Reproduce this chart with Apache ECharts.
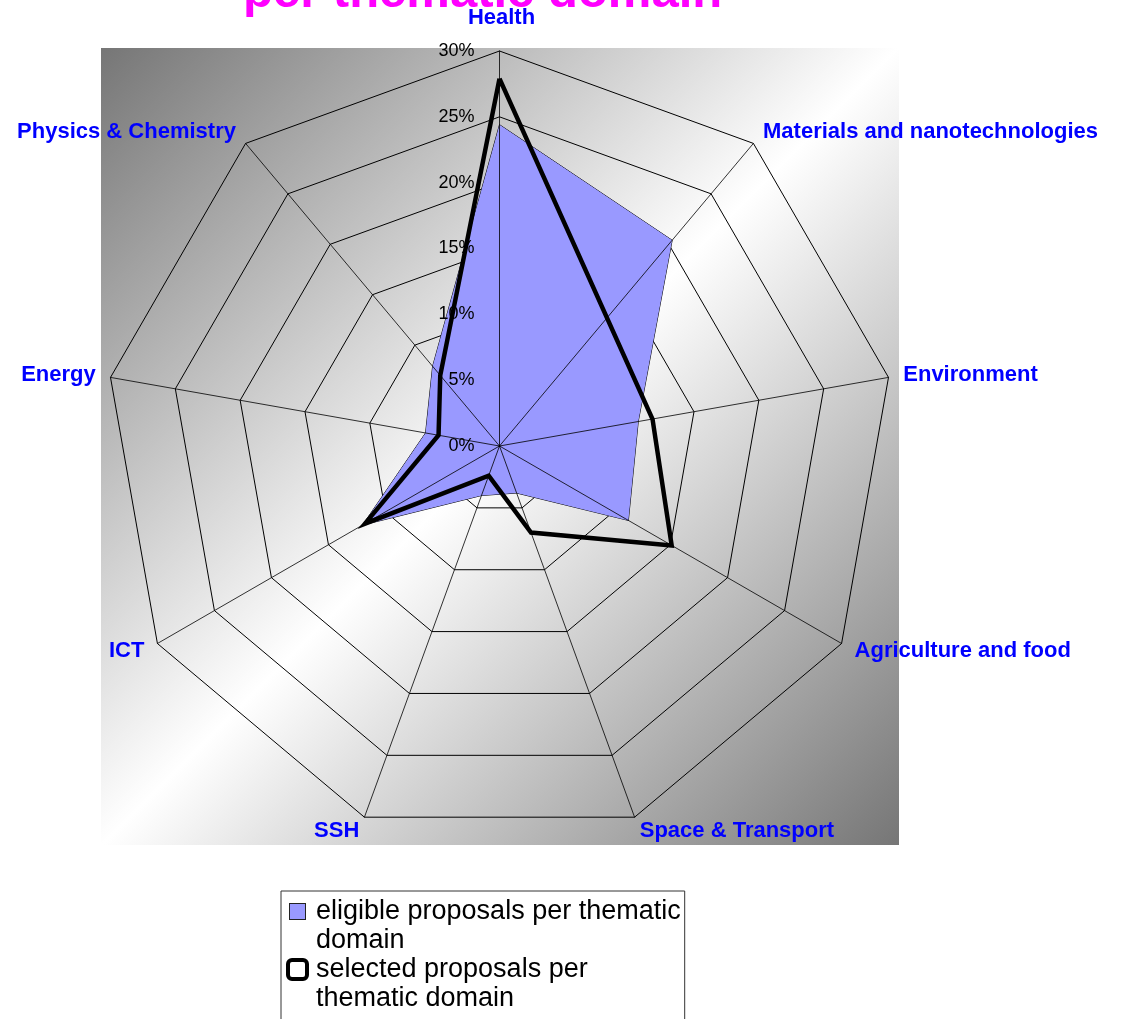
<!DOCTYPE html>
<html>
<head>
<meta charset="utf-8">
<script src="https://cdn.jsdelivr.net/npm/echarts@6/dist/echarts.min.js"></script>
<style>
  html, body { margin: 0; padding: 0; background: #fff; }
  #chart { width: 1131px; height: 1019px; }
</style>
</head>
<body>
<div id="chart"></div>
<script>
// domains, clockwise from the top
const categories = ['Health', 'Materials and nanotechnologies', 'Environment', 'Agriculture and food',
  'Space & Transport', 'SSH', 'ICT', 'Energy', 'Physics & Chemistry']
// shares in %
const eligible = [24.4, 20.4, 10.7, 11.3, 3.8, 4.0, 12.0, 5.7, 7.9]
const selected = [27.9, 12.7, 11.8, 15.1, 7.0, 2.4, 11.8, 4.7, 7.0]
const axisMax = 30
const tickStep = 5
const seriesNames = ['eligible proposals per thematic domain', 'selected proposals per thematic domain']
const legendLines = [['eligible proposals per thematic', 'domain'], ['selected proposals per', 'thematic domain']]
const titleText = 'per thematic domain'

// echarts radar runs counter-clockwise, so flip the order after the first axis
const order = [0].concat(categories.map((c, i) => i).slice(1).reverse())
const pick = arr => order.map(i => arr[i])

const FONT = 'Liberation Sans, Arial, sans-serif'
const center = [499.5, 446]
const radius = 395

const indicators = pick(categories).map(name => ({ name: name, min: 0, max: axisMax }))

const chart = echarts.init(document.getElementById('chart'))
const option = {
  backgroundColor: '#fff',
  animation: false,
  title: {
    text: titleText,
    left: 238,
    top: -36,
    textStyle: { color: '#FF00FF', fontSize: 49, fontWeight: 'bold', fontFamily: FONT }
  },
  graphic: [{
    type: 'rect',
    z: -10,
    silent: true,
    shape: { x: 101, y: 48, width: 798, height: 797 },
    style: {
      fill: {
        type: 'linear', x: 0, y: 0, x2: 1, y2: 1,
        colorStops: [
          { offset: 0, color: '#767676' },
          { offset: 0.5, color: '#ffffff' },
          { offset: 1, color: '#767676' }
        ]
      }
    }
  }],
  radar: [
    {
      center: center,
      radius: radius,
      startAngle: 90,
      shape: 'polygon',
      splitNumber: axisMax / tickStep,
      indicator: indicators,
      axisNameGap: 15,
      axisName: {
        color: '#0000FF', fontSize: 22, fontWeight: 'bold', fontFamily: FONT,
        // the top label sits a little higher in the original
        formatter: name => name === categories[0] ? '{top|' + name + '}' : name,
        rich: { top: { color: '#0000FF', fontSize: 22, fontWeight: 'bold', fontFamily: FONT, padding: [0, 0, 7, 4] } }
      },
      axisLine: { show: false },
      splitLine: { lineStyle: { color: '#000', width: 1 } },
      splitArea: { show: false },
      axisLabel: { show: false }
    },
    {
      // spokes drawn above the filled area
      z: 3,
      center: center,
      radius: radius,
      startAngle: 90,
      shape: 'polygon',
      splitNumber: axisMax / tickStep,
      indicator: indicators,
      axisName: { show: false },
      axisLine: { lineStyle: { color: '#000', width: 0.8 } },
      splitLine: { show: false },
      splitArea: { show: false },
      axisLabel: { show: false }
    }
  ],
  polar: { center: center, radius: radius },
  angleAxis: { show: false, startAngle: 90, min: 0, max: 360 },
  radiusAxis: {
    z: 4,
    min: 0,
    max: axisMax,
    interval: tickStep,
    axisLine: { show: false },
    axisTick: { show: false },
    splitLine: { show: false },
    axisLabel: {
      margin: 25,
      color: '#000',
      fontSize: 18,
      fontFamily: FONT,
      formatter: v => v + '%'
    }
  },
  legend: {
    orient: 'vertical',
    left: 281,
    top: 891,
    height: 300,
    padding: [6, 4, 10, 4],
    itemGap: 0,
    itemWidth: 0,
    itemHeight: 14,
    icon: 'none',
    backgroundColor: '#fff',
    borderColor: '#333',
    borderWidth: 1,
    borderRadius: 0,
    data: seriesNames,
    formatter: name => {
      const i = seriesNames.indexOf(name)
      const icon = i === 0 ? '{ia|}' : '{ib|}'
      return icon + '{g|}' + legendLines[i][0] + '\n{sp|}' + legendLines[i][1]
    },
    textStyle: {
      color: '#000',
      fontSize: 27,
      lineHeight: 29,
      fontFamily: FONT,
      rich: {
        ia: { width: 15, height: 15, backgroundColor: '#9999FF', borderColor: '#222', borderWidth: 1 },
        ib: { width: 15, height: 15, backgroundColor: '#fff', borderColor: '#000', borderWidth: 4, borderRadius: 2 },
        g: { width: 11 },
        sp: { width: 26 }
      }
    }
  },
  series: [
    {
      name: seriesNames[0],
      type: 'radar',
      radarIndex: 0,
      z: 2,
      symbol: 'none',
      data: [{
        name: seriesNames[0],
        value: pick(eligible),
        lineStyle: { color: '#000', width: 1 },
        areaStyle: { color: '#9999FF', opacity: 1 },
        itemStyle: { color: '#9999FF' }
      }]
    },
    {
      name: seriesNames[1],
      type: 'radar',
      radarIndex: 0,
      z: 5,
      symbol: 'none',
      data: [{
        name: seriesNames[1],
        value: pick(selected),
        lineStyle: { color: '#000', width: 4.5, join: 'miter' },
        itemStyle: { color: '#000' }
      }]
    }
  ]
}
chart.setOption(option)
</script>
</body>
</html>
